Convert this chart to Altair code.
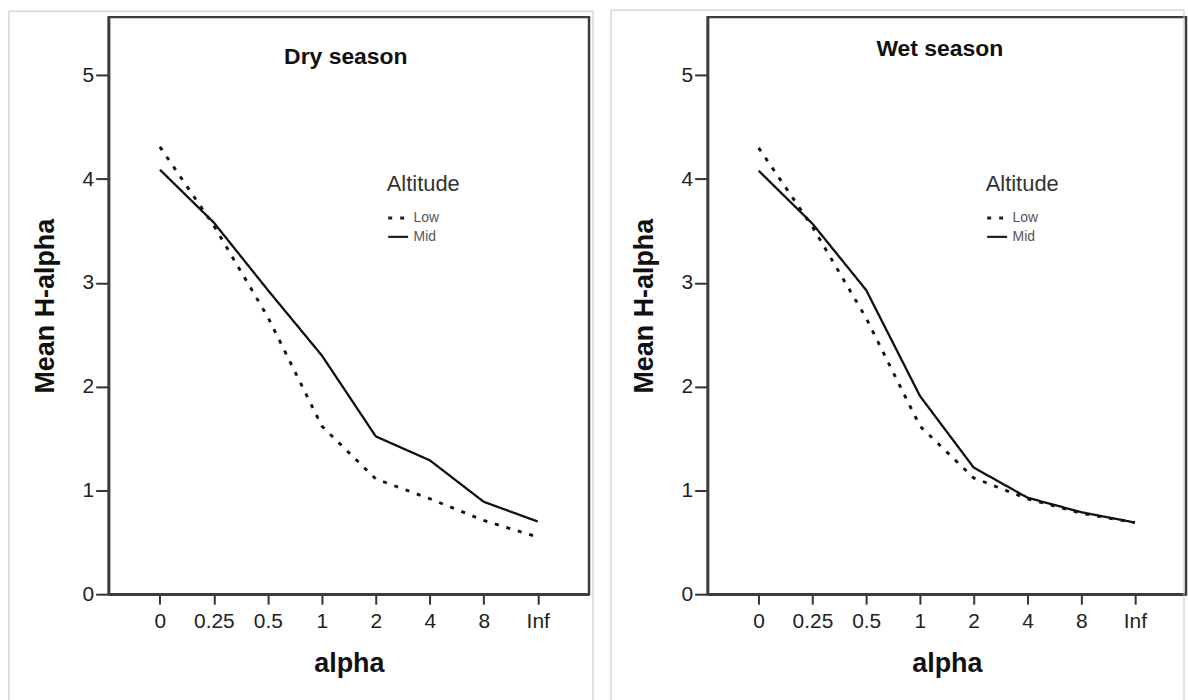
import altair as alt
import pandas as pd

alpha = ["0", "0.25", "0.5", "1", "2", "4", "8", "Inf"]
dry_low = [4.31, 3.55, 2.67, 1.62, 1.11, 0.92, 0.71, 0.55]
dry_mid = [4.09, 3.58, 2.93, 2.30, 1.52, 1.29, 0.89, 0.70]
wet_low = [4.30, 3.54, 2.66, 1.62, 1.12, 0.92, 0.78, 0.69]
wet_mid = [4.08, 3.57, 2.93, 1.91, 1.22, 0.93, 0.79, 0.69]
altitudes = ["Low", "Mid"]
y_ticks = [0, 1, 2, 3, 4, 5]

FONT = "Liberation Sans"
H = 579


def panel(title, low, mid, width, title_x, title_y, bx, by):
    rows = []
    for a, v in zip(alpha, low):
        rows.append({"alpha": a, "value": v, "Altitude": "Low"})
    for a, v in zip(alpha, mid):
        rows.append({"alpha": a, "value": v, "Altitude": "Mid"})
    df = pd.DataFrame(rows)

    lines = alt.Chart(df).mark_line(color="#111111").encode(
        x=alt.X(
            "alpha:O",
            sort=alpha,
            scale=alt.Scale(type="point", padding=0.95),
            axis=alt.Axis(
                title="alpha",
                labelAngle=0,
                labelFontSize=21,
                labelColor="#222222",
                labelFont=FONT,
                labelPadding=6,
                tickSize=10,
                tickWidth=2,
                tickColor="#333333",
                domainColor="#3c3c3c",
                domainWidth=2.5,
                titleFontSize=27,
                titleFont=FONT,
                titleFontWeight="bold",
                titleColor="#111111",
                titlePadding=20,
                grid=False,
            ),
        ),
        y=alt.Y(
            "value:Q",
            scale=alt.Scale(domain=[0, 5.56], nice=False, zero=True),
            axis=alt.Axis(
                title="Mean H-alpha",
                values=y_ticks,
                labelFontSize=21,
                labelColor="#222222",
                labelFont=FONT,
                labelPadding=2,
                tickSize=13,
                tickWidth=2,
                tickColor="#333333",
                domainColor="#3c3c3c",
                domainWidth=2.5,
                titleFontSize=27,
                titleFont=FONT,
                titleFontWeight="bold",
                titleColor="#111111",
                titlePadding=23,
                minExtent=26,
                maxExtent=26,
                grid=False,
            ),
        ),
        strokeDash=alt.StrokeDash(
            "Altitude:N",
            scale=alt.Scale(domain=altitudes, range=[[4, 8], [1, 0]]),
            legend=alt.Legend(
                orient="none",
                legendX=279,
                legendY=157,
                title="Altitude",
                titleFont=FONT,
                titleFontSize=22,
                titleFontWeight="normal",
                titleColor="#333333",
                titlePadding=11,
                labelFont=FONT,
                labelFontSize=14,
                labelColor="#555555",
                symbolType="stroke",
                symbolSize=400,
                symbolStrokeWidth=2.4,
                symbolStrokeColor="#222222",
                rowPadding=0,
            ),
        ),
        strokeWidth=alt.StrokeWidth(
            "Altitude:N",
            scale=alt.Scale(domain=altitudes, range=[2.9, 2.3]),
            legend=None,
        ),
    )

    ttl = alt.Chart(pd.DataFrame({"t": [title]})).mark_text(
        font=FONT, fontSize=23, fontWeight="bold", color="#111111",
        baseline="middle", align="center",
    ).encode(text="t:N", x=alt.value(title_x), y=alt.value(title_y))

    border = alt.Chart(pd.DataFrame({"b": [0]})).mark_rect(
        fillOpacity=0, stroke="#c4c4c4", strokeWidth=1,
    ).encode(
        x=alt.value(bx[0]), x2=alt.value(bx[1]),
        y=alt.value(by[0]), y2=alt.value(by[1]),
    )

    return alt.layer(border, lines, ttl).properties(width=width, height=H)


left = panel("Dry season", dry_low, dry_mid, 482, 238, 40, (-100, 486), (-6, 686))
right = panel("Wet season", wet_low, wet_mid, 480, 233, 32, (-97, 478), (-7, 686))

chart = alt.hconcat(left, right, spacing=14).resolve_scale(
    strokeDash="independent", strokeWidth="independent"
).resolve_legend(
    strokeDash="independent"
).properties(
    padding={"left": 7, "top": 7, "right": 0, "bottom": 0},
    background="white",
).configure_view(
    stroke="#3c3c3c", strokeWidth=2.5
)

chart.save("out.html", embed_options={"renderer": "svg", "actions": False})
